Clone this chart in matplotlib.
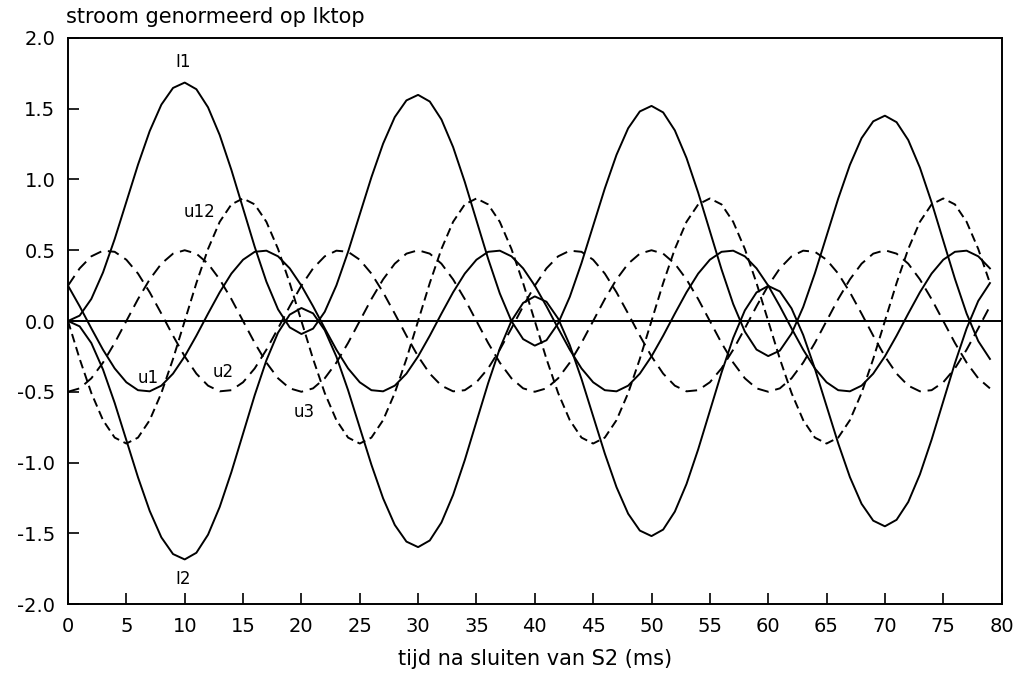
import matplotlib
matplotlib.use("Agg")
import matplotlib.pyplot as plt

# time axis (ms), one sample per ms
t = list(range(80))

# currents normalised on Iktop
i1 = [0.000, 0.038, 0.156, 0.343, 0.579, 0.842, 1.105, 1.342, 1.529, 1.647,
      1.685, 1.638, 1.510, 1.314, 1.068, 0.796, 0.524, 0.278, 0.082, -0.045,
      -0.092, -0.054, 0.065, 0.252, 0.489, 0.753, 1.016, 1.253, 1.441, 1.559,
      1.598, 1.551, 1.424, 1.229, 0.983, 0.711, 0.440, 0.195, -0.001, -0.128,
      -0.174, -0.136, -0.017, 0.171, 0.409, 0.673, 0.937, 1.174, 1.362, 1.481,
      1.520, 1.474, 1.347, 1.152, 0.907, 0.636, 0.365, 0.120, -0.075, -0.202,
      -0.248, -0.209, -0.089, 0.099, 0.337, 0.601, 0.865, 1.103, 1.292, 1.411,
      1.451, 1.405, 1.279, 1.084, 0.839, 0.568, 0.298, 0.053, -0.142, -0.268]
i2 = [-v for v in i1]

# voltages (one 20 ms period each, repeated)
u1_cycle = [0.250, 0.104, -0.052, -0.203, -0.335, -0.433, -0.489, -0.497, -0.457, -0.372,
            -0.250, -0.104, 0.052, 0.203, 0.335, 0.433, 0.489, 0.497, 0.457, 0.372]
u2_cycle = [0.250, 0.372, 0.457, 0.497, 0.489, 0.433, 0.335, 0.203, 0.052, -0.104,
            -0.250, -0.372, -0.457, -0.497, -0.489, -0.433, -0.335, -0.203, -0.052, 0.104]
u3_cycle = [-0.500, -0.476, -0.405, -0.294, -0.155, 0.000, 0.155, 0.294, 0.405, 0.476,
            0.500, 0.476, 0.405, 0.294, 0.155, 0.000, -0.155, -0.294, -0.405, -0.476]
u12_cycle = [0.000, -0.268, -0.509, -0.701, -0.824, -0.866, -0.824, -0.701, -0.509, -0.268,
             0.000, 0.268, 0.509, 0.701, 0.824, 0.866, 0.824, 0.701, 0.509, 0.268]
u1 = u1_cycle * 4
u2 = u2_cycle * 4
u3 = u3_cycle * 4
u12 = u12_cycle * 4

x_ticks = list(range(0, 81, 5))
y_ticks = [-2.0, -1.5, -1.0, -0.5, 0.0, 0.5, 1.0, 1.5, 2.0]

fig = plt.figure(figsize=(10.21, 6.87), dpi=100)
ax = fig.add_axes([0.0666, 0.1208, 0.9144, 0.8239])

lw = 1.4
ax.axhline(0, color="black", lw=lw)
ax.plot(t, i1, color="black", lw=lw)
ax.plot(t, i2, color="black", lw=lw)
ax.plot(t, u1, color="black", lw=lw)
ax.plot(t, u2, color="black", lw=lw, dashes=(6, 3.5))
ax.plot(t, u3, color="black", lw=lw, dashes=(6, 3.5))
ax.plot(t, u12, color="black", lw=lw, dashes=(4.5, 2.5))

ax.set_xlim(0, 80)
ax.set_ylim(-2, 2)
ax.set_xticks(x_ticks)
ax.set_yticks(y_ticks)
ax.set_yticklabels(["%.1f" % v for v in y_ticks])
ax.tick_params(direction="in", length=8, width=1.2, labelsize=14, pad=9)
for s in ax.spines.values():
    s.set_linewidth(1.4)

lab = dict(fontsize=12, ha="center", va="center")
ax.text(9.9, 1.83, "I1", **lab)
ax.text(9.9, -1.82, "I2", **lab)
ax.text(6.9, -0.40, "u1", **lab)
ax.text(13.3, -0.36, "u2", **lab)
ax.text(20.2, -0.64, "u3", **lab)
ax.text(11.3, 0.77, "u12", **lab)

ax.set_xlabel("tijd na sluiten van S2 (ms)", fontsize=15, labelpad=10)
fig.text(0.065, 0.975, "stroom genormeerd op Iktop", fontsize=15, ha="left", va="center")

fig.savefig("out.png", dpi=100)
